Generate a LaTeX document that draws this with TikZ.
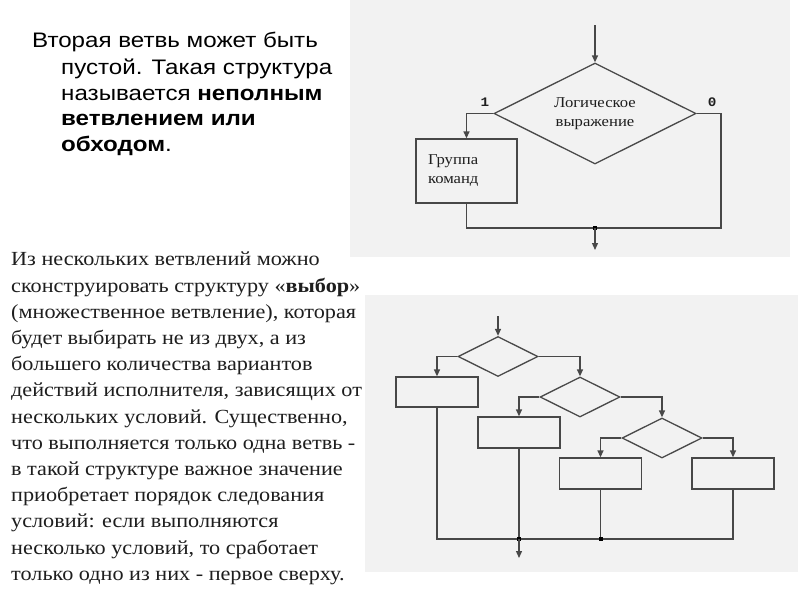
\documentclass[tikz,border=0pt]{standalone}
\usepackage{fontspec}
\setmainfont{Liberation Serif}
\setsansfont{Liberation Sans}
\setmonofont{Liberation Mono}
\newfontfamily\wideserif[FakeStretch=1.11]{Liberation Serif}
\newfontfamily\widesans[FakeStretch=1.15]{Liberation Sans}
\newfontfamily\widemono[FakeStretch=1.1]{Liberation Mono}
\usetikzlibrary{arrows.meta,positioning,shapes.geometric}
\definecolor{panel}{HTML}{F2F2F2}
\definecolor{ink}{HTML}{484848}
\definecolor{txt}{HTML}{1E1E1E}
\tikzset{
  >={Triangle[length=7pt,width=6pt]},
  block/.style={draw=ink,line width=1.3pt,fill=panel,minimum height=30pt,minimum width=82pt,inner sep=0pt},
  cond/.style={diamond,draw=ink,line width=1.3pt,fill=panel,minimum width=80pt,minimum height=40pt,inner sep=0pt},
  line/.style={draw=ink,line width=1.3pt},
  arrow/.style={line,->},
  dot/.style={fill=black,inner sep=0pt,minimum size=4pt},
  bit/.style={font=\fontsize{13}{13}\selectfont\widemono\bfseries,inner sep=0pt,text=txt},
  lbl/.style={font=\fontsize{15}{19}\selectfont\wideserif,align=center,text=txt},
  heading/.style={font=\fontsize{21}{25.5}\selectfont\widesans,align=left,inner sep=0pt,text=black},
  body/.style={font=\fontsize{20}{26.2}\selectfont\wideserif,align=left,inner sep=0pt,text=txt},
}

\begin{document}
\begin{tikzpicture}[x=1pt,y=-1pt]
  \useasboundingbox[fill=white] (0,0) rectangle (800,600);
  % grey panels behind the two schemes
  \fill[panel] (350,0) rectangle (790,257);
  \fill[panel] (365,295) rectangle (798,572);

  % text on the left
  \node[heading,anchor=base west] (introA) at (32,47) {Вторая ветвь может быть};
  \node[heading,anchor=north west] (introB) at (61,59) {пустой. Такая структура\\
    называется \textbf{неполным}\\\textbf{ветвлением или}\\\textbf{обходом}.};
  \node[body,anchor=north west] (choice) at (11,252) {Из нескольких ветвлений можно\\
    сконструировать  структуру «\textbf{выбор}»\\
    (множественное ветвление), которая\\
    будет выбирать не из двух, а из\\
    большего количества вариантов\\
    действий исполнителя, зависящих от\\
    нескольких условий. Существенно,\\
    что выполняется только одна ветвь -\\
    в такой структуре важное значение\\
    приобретает порядок следования\\
    условий: если выполняются\\
    несколько условий, то сработает\\
    только одно из них - первое сверху.};

  % incomplete branching
  \node[cond,lbl,minimum width=202pt,minimum height=101pt,aspect=2] (expr) at (595,113.5) {Логическое\\выражение};
  \node[block,lbl,minimum width=101pt,minimum height=64pt,text width=77pt,align=left] (group) at (466.5,171) {Группа\\команд};
  \node[bit,above left=7pt and 4pt of expr.west] (yes) {1};
  \node[bit,above right=7pt and 11pt of expr.east] (no) {0};
  \coordinate (in) at (595,25);
  \coordinate (join) at (595,228);
  \coordinate (corner) at (721,228);
  \coordinate (out) at (595,250);
  \draw[arrow] (in) -- (expr.north);
  \draw[arrow] (expr.west) -| (group.north);
  \draw[line] (group.south) |- (join);
  \draw[line] (expr.east) -| (corner) -- (join);
  \node[dot] (joindot) at (join) {};
  \draw[arrow] (join) -- (out);

  % choice
  \node[cond] (c1) at (498,356.5) {};
  \node[cond] (c2) at (580,397) {};
  \node[cond] (c3) at (662,438) {};
  \node[block] (a1) at (437,392) {};
  \node[block,minimum height=31pt] (a2) at (519,432.5) {};
  \node[block,minimum height=31pt] (a3) at (600.5,473.5) {};
  \node[block,minimum height=31pt] (a4) at (733,473.5) {};
  \coordinate (start) at (498,316);
  \coordinate (m1) at (519,539);
  \coordinate (m2) at (600.5,539);
  \coordinate (stop) at (519,558);
  \draw[arrow] (start) -- (c1.north);
  \draw[arrow] (c1.west) -| (a1.north);
  \draw[arrow] (c1.east) -| (c2.north);
  \draw[arrow] (c2.west) -| (a2.north);
  \draw[arrow] (c2.east) -| (c3.north);
  \draw[arrow] (c3.west) -| (a3.north);
  \draw[arrow] (c3.east) -| (a4.north);
  \draw[line] (a1.south) |- (m1);
  \draw[line] (a2.south) -- (m1);
  \draw[line] (a3.south) -- (m2);
  \draw[line] (a4.south) |- (m2) -- (m1);
  \node[dot] (m1dot) at (m1) {};
  \node[dot] (m2dot) at (m2) {};
  \draw[arrow] (m1) -- (stop);
\end{tikzpicture}
\end{document}
